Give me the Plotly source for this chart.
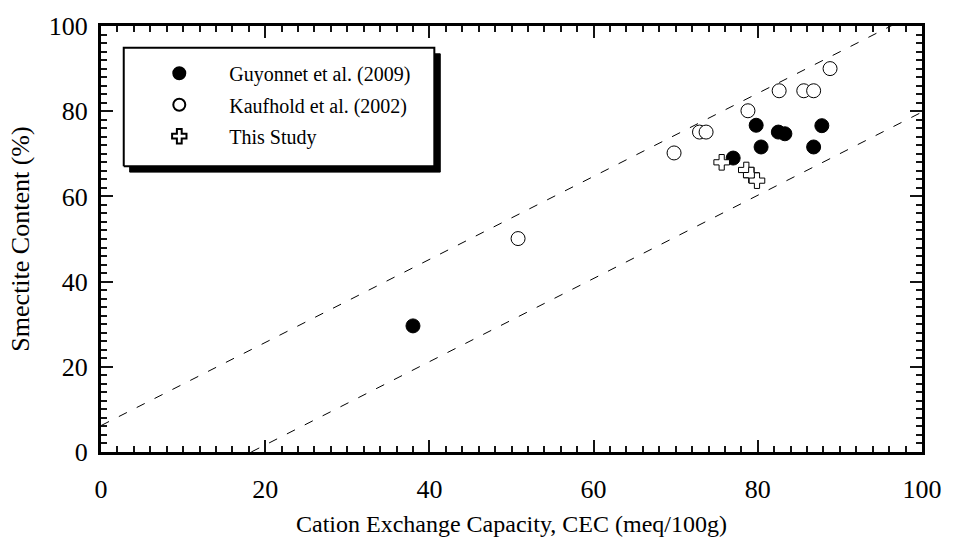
import plotly.graph_objects as go

# Guyonnet et al. (2009): CEC (meq/100g) vs smectite content (%)
guy_cec = [38.0, 77.0, 79.8, 80.4, 82.5, 83.3, 86.8, 87.8]
guy_sm = [29.6, 69.0, 76.7, 71.6, 75.1, 74.7, 71.6, 76.6]

# Kaufhold et al. (2002)
kau_cec = [50.8, 69.8, 72.9, 73.7, 78.8, 82.6, 85.6, 86.8, 88.8]
kau_sm = [50.1, 70.2, 75.1, 75.1, 80.1, 84.8, 84.8, 84.8, 90.0]

# This study
ts_cec = [75.6, 78.6, 79.2, 79.9]
ts_sm = [68.0, 66.2, 65.0, 63.7]

# Bounding dashed lines (end points)
upper_x = [0.0, 100.0]
upper_y = [6.2, 103.7]
lower_x = [18.3, 100.0]
lower_y = [0.0, 79.8]

FONT = "Liberation Serif, Times New Roman, serif"
NB = "\u00a0"
TICK = "#141414"

fig = go.Figure()

# legend frame and its drop shadow, drawn on a 0..1 overlay frame
bx0, bx1, by0, by1 = 0.0277, 0.406, 0.671, 0.9487
sx, sy = 6 / 829.5, 6 / 428.7
fig.add_trace(go.Scatter(
    x=[bx0 + sx, bx1 + sx, bx1 + sx, bx0 + sx, bx0 + sx],
    y=[by0 - sy, by0 - sy, by1 - sy, by1 - sy, by0 - sy],
    xaxis="x2", yaxis="y2", mode="lines", fill="toself", fillcolor="black",
    line=dict(color="black", width=1), showlegend=False, hoverinfo="skip"))
fig.add_trace(go.Scatter(
    x=[bx0, bx1, bx1, bx0, bx0], y=[by0, by0, by1, by1, by0],
    xaxis="x2", yaxis="y2", mode="lines", fill="toself", fillcolor="white",
    line=dict(color="black", width=2), showlegend=False, hoverinfo="skip"))

dash_style = dict(color="black", width=1, dash="9px,11px")
fig.add_trace(go.Scatter(x=upper_x, y=upper_y, mode="lines", line=dash_style,
                         showlegend=False, hoverinfo="skip"))
fig.add_trace(go.Scatter(x=lower_x, y=lower_y, mode="lines", line=dash_style,
                         showlegend=False, hoverinfo="skip"))

fig.add_trace(go.Scatter(
    x=guy_cec, y=guy_sm, mode="markers", name=NB * 6 + "Guyonnet et al. (2009)",
    legendgroup="g1",
    marker=dict(symbol="circle", size=14, color="black",
                line=dict(color="black", width=1))))
fig.add_trace(go.Scatter(
    x=kau_cec, y=kau_sm, mode="markers", name=NB * 6 + "Kaufhold et al. (2002)",
    legendgroup="g2",
    marker=dict(symbol="circle", size=14, color="white",
                line=dict(color="black", width=1))))
fig.add_trace(go.Scatter(
    x=ts_cec, y=ts_sm, mode="markers", name=NB * 6 + "This Study",
    legendgroup="g3",
    marker=dict(symbol="cross", size=13, color="white",
                line=dict(color="black", width=1))))

tick_style = dict(
    range=[0, 100], dtick=20, showline=True, linecolor="black",
    linewidth=3, mirror="allticks", ticks="inside", ticklen=12,
    tickwidth=2, tickcolor=TICK, minor_ticks="inside", minor_dtick=2,
    minor_ticklen=6, minor_tickcolor=TICK, minor_tickwidth=2,
    showgrid=False, zeroline=False,
    tickfont=dict(family=FONT, size=26, color="black"),
)
fig.update_xaxes(**tick_style)
fig.update_yaxes(**tick_style)

fig.update_xaxes(ticklabelstandoff=12,
                 title=dict(text="Cation Exchange Capacity, CEC (meq/100g)",
                            font=dict(family=FONT, size=24, color="black"),
                            standoff=12))
fig.update_yaxes(ticklabelstandoff=5,
                 title=dict(text="Smectite Content (%)",
                            font=dict(family=FONT, size=26, color="black"),
                            standoff=12))

fig.update_layout(
    width=954, height=545,
    margin=dict(l=101, r=24, t=24, b=92),
    plot_bgcolor="white", paper_bgcolor="white",
    font=dict(family=FONT, color="black"),
    xaxis2=dict(overlaying="x", range=[0, 1], visible=False),
    yaxis2=dict(overlaying="y", range=[0, 1], visible=False),
    showlegend=True,
    legend=dict(x=0.071, y=0.935, xanchor="left", yanchor="top",
                bgcolor="rgba(0,0,0,0)", borderwidth=0,
                font=dict(family=FONT, size=20, color="black"),
                itemsizing="constant", tracegroupgap=2.5),
)

fig.write_html("out.html")
